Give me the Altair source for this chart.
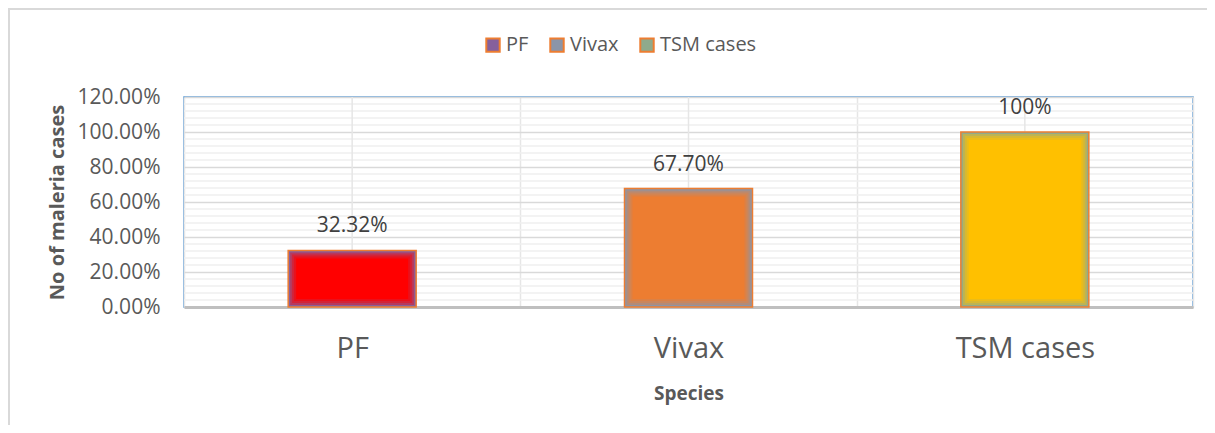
import altair as alt
import pandas as pd

species = ["PF", "Vivax", "TSM cases"]
values = [0.3232, 0.6770, 1.00]
labels = ["32.32%", "67.70%", "100%"]
bar_colors = ["#FF0000", "#ED7D31", "#FFC000"]
edge_colors = ["#86609C", "#8B95A8", "#8FAA8C"]
y_ticks = [0, 0.2, 0.4, 0.6, 0.8, 1.0, 1.2]
minor_ticks = [round(0.04 * i, 2) for i in range(1, 30) if i % 5 != 0]

df = pd.DataFrame({"Species": species, "Value": values, "Label": labels,
                   "inner": bar_colors, "edge": edge_colors})
minor_df = pd.DataFrame({"g": minor_ticks})
one = pd.DataFrame({"a": [0]})

W, H = 1009, 210
PAD = {"left": 176, "top": 89, "right": 14, "bottom": 118}
FONT = "Open Sans"
GREY = "#595959"


def mix(c1, c2, t):
    a = [int(c1[i:i + 2], 16) for i in (1, 3, 5)]
    b = [int(c2[i:i + 2], 16) for i in (1, 3, 5)]
    return "#" + "".join(f"{round(x + (y - x) * t):02x}" for x, y in zip(a, b))


x_enc = alt.X(
    "Species:N", sort=species,
    scale=alt.Scale(paddingInner=0, paddingOuter=0),
    axis=alt.Axis(title="Species", labelAngle=0, labelFontSize=29, labelColor=GREY,
                  labelPadding=27, ticks=False, domainColor="#BFBFBF", domainWidth=3,
                  grid=True, gridColor="#E6E6E6", gridWidth=1.5, tickBand="extent",
                  titleFontSize=19, titleFontWeight="bold", titleColor=GREY,
                  titlePadding=21),
)
y_scale = alt.Scale(domain=[0, 1.2], nice=False)
y_axis = alt.Axis(values=y_ticks, format=".2%", title="No of maleria cases",
                  labelFontSize=21, labelColor=GREY, labelPadding=24, ticks=False,
                  domain=False, grid=True, gridColor="#D9D9D9", gridWidth=1.5,
                  titleFontSize=20, titleFontWeight="bold", titleColor=GREY,
                  titlePadding=10)

minor = alt.Chart(minor_df).mark_rule(color="#EFEFEF", strokeWidth=1.5).encode(
    y=alt.Y("g:Q", scale=y_scale, axis=y_axis)
)

centers = alt.Chart(df).mark_rule(color="#E6E6E6", strokeWidth=1.5).encode(
    x=x_enc, y=alt.Y(datum=1.2, scale=y_scale, axis=y_axis), y2=alt.Y2(datum=0)
)

base = alt.Chart(df).mark_bar(width=128, stroke="#ED7D31", strokeWidth=1.5).encode(
    x=x_enc,
    y=alt.Y("Value:Q", scale=y_scale, axis=y_axis),
    y2=alt.Y2(datum=0),
    fill=alt.Fill("Species:N", sort=species,
                  scale=alt.Scale(domain=species, range=edge_colors),
                  legend=alt.Legend(title=None, orient="none", legendX=299, legendY=-62,
                                    direction="horizontal", symbolType="square",
                                    symbolSize=180, symbolStrokeColor="#ED7D31",
                                    symbolStrokeWidth=2, symbolOpacity=1,
                                    labelFontSize=20, labelColor=GREY, labelOffset=3,
                                    columnPadding=17, padding=0)),
)

layers = [minor, centers, base]
for inset, t in [(2, 0.4), (4, 0.64), (6, 0.82), (8, 1.0)]:
    dfi = df.copy()
    dfi["shade"] = [mix(e, c, t) for e, c in zip(edge_colors, bar_colors)]
    layers.append(
        alt.Chart(dfi).mark_bar(width=128 - 2 * inset, yOffset=inset,
                                y2Offset=-inset).encode(
            x=x_enc,
            y=alt.Y("Value:Q", scale=y_scale, axis=y_axis),
            y2=alt.Y2(datum=0),
            fill=alt.Fill("shade:N", scale=None),
        )
    )

text = alt.Chart(df).mark_text(dy=-18, baseline="alphabetic", fontSize=21,
                               color="#404040").encode(
    x=x_enc, y=alt.Y("Value:Q", scale=y_scale, axis=y_axis), text="Label:N"
)
layers.append(text)

frame_left = alt.Chart(one).mark_rule(color="#D9D9D9", strokeWidth=2, clip=False).encode(
    x=alt.value(-175), y=alt.value(-89), y2=alt.value(H + PAD["bottom"])
)
frame_top = alt.Chart(one).mark_rule(color="#D9D9D9", strokeWidth=2, clip=False).encode(
    x=alt.value(-176), x2=alt.value(W + PAD["right"]), y=alt.value(-88)
)
layers += [frame_left, frame_top]

chart = alt.layer(*layers).properties(
    width=W, height=H, padding=PAD, autosize=alt.AutoSizeParams(type="none")
).configure(font=FONT).configure_view(stroke="#5B9BD5", strokeWidth=1.5)

chart.save("out.html", embed_options={"renderer": "svg", "actions": False})
